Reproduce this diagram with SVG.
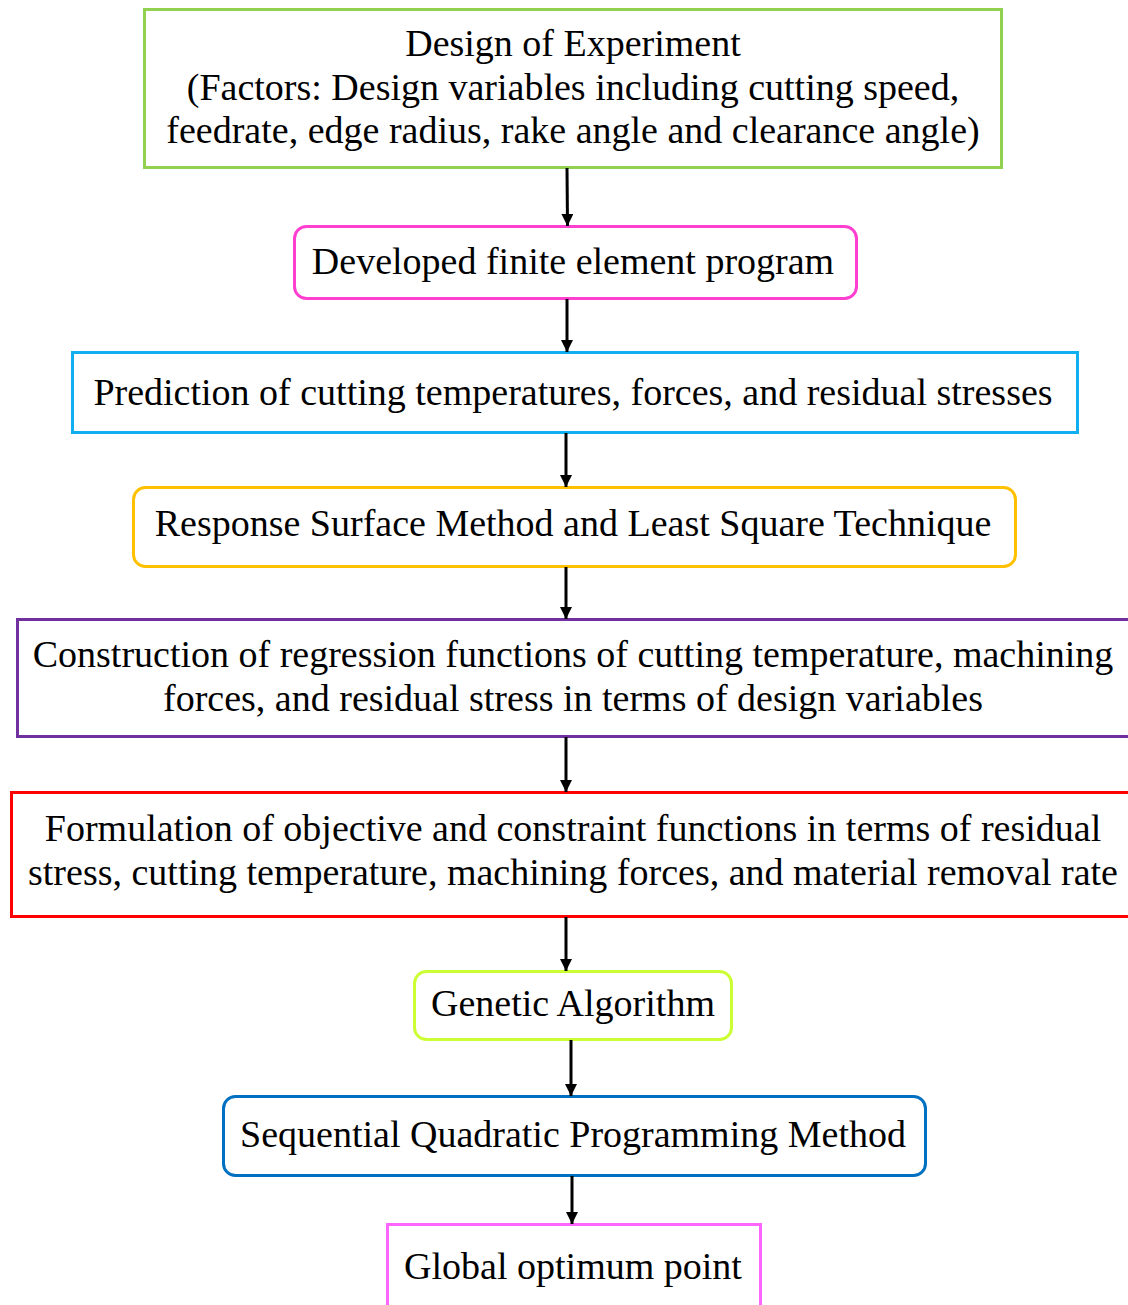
<svg xmlns="http://www.w3.org/2000/svg" width="1128" height="1305" viewBox="0 0 1128 1305">
<defs>
<style>
.box{fill:#fff;stroke-width:3}
.t{font-family:"Liberation Serif","Times New Roman",serif;font-size:38px;fill:#000;text-anchor:middle}
.c{stroke:#000;stroke-width:3;fill:none}
</style>
<marker id="ah" viewBox="0 0 10 10" refX="10" refY="5" markerWidth="4" markerHeight="4" markerUnits="strokeWidth" orient="auto">
<path d="M0,0 L10,5 L0,10 z" fill="#000"/>
</marker>
</defs>
<rect width="1128" height="1305" fill="#fff"/>
<g id="n1">
<rect class="box" x="144.5" y="9.5" width="857" height="158" stroke="#92d050"/>
<text class="t" x="573" y="56">Design of Experiment</text>
<text class="t" x="573" y="100">(Factors: Design variables including cutting speed,</text>
<text class="t" x="573" y="143">feedrate, edge radius, rake angle and clearance angle)</text>
</g>
<g id="n2">
<rect class="box" x="294.5" y="226.5" width="562" height="72" rx="12" stroke="#ff3fd0"/>
<text class="t" x="573" y="274">Developed finite element program</text>
</g>
<g id="n3">
<rect class="box" x="72.5" y="352.5" width="1005" height="80" stroke="#10b0f0"/>
<text class="t" x="573" y="405">Prediction of cutting temperatures, forces, and residual stresses</text>
</g>
<g id="n4">
<rect class="box" x="133.5" y="487.5" width="882" height="79" rx="12" stroke="#ffc000"/>
<text class="t" x="573" y="536">Response Surface Method and Least Square Technique</text>
</g>
<g id="n5">
<rect class="box" x="17.5" y="619.5" width="1120" height="117" stroke="#7030a0"/>
<text class="t" x="573" y="667">Construction of regression functions of cutting temperature, machining</text>
<text class="t" x="573" y="711">forces, and residual stress in terms of design variables</text>
</g>
<g id="n6">
<rect class="box" x="11.5" y="792.5" width="1130" height="124" stroke="#ff0000"/>
<text class="t" x="573" y="841">Formulation of objective and constraint functions in terms of residual</text>
<text class="t" x="573" y="885">stress, cutting temperature, machining forces, and material removal rate</text>
</g>
<g id="n7">
<rect class="box" x="414.5" y="971.5" width="317" height="68" rx="12" stroke="#ccff33"/>
<text class="t" x="573" y="1016">Genetic Algorithm</text>
</g>
<g id="n8">
<rect class="box" x="223.5" y="1096.5" width="702" height="79" rx="12" stroke="#0070c0"/>
<text class="t" x="573" y="1147">Sequential Quadratic Programming Method</text>
</g>
<g id="n9">
<rect class="box" x="387.5" y="1224.5" width="373" height="100" stroke="#ff66ff"/>
<text class="t" x="573" y="1279">Global optimum point</text>
</g>
<g id="connectors">
<line class="c" x1="567" y1="168" x2="567.5" y2="226" marker-end="url(#ah)"/>
<line class="c" x1="567" y1="299" x2="567" y2="352" marker-end="url(#ah)"/>
<line class="c" x1="566" y1="433" x2="566" y2="487" marker-end="url(#ah)"/>
<line class="c" x1="566" y1="567" x2="566" y2="619" marker-end="url(#ah)"/>
<line class="c" x1="566" y1="737" x2="566" y2="792" marker-end="url(#ah)"/>
<line class="c" x1="566" y1="917" x2="566" y2="971" marker-end="url(#ah)"/>
<line class="c" x1="571" y1="1040" x2="571" y2="1096" marker-end="url(#ah)"/>
<line class="c" x1="572" y1="1176" x2="572" y2="1224" marker-end="url(#ah)"/>
</g>
</svg>
